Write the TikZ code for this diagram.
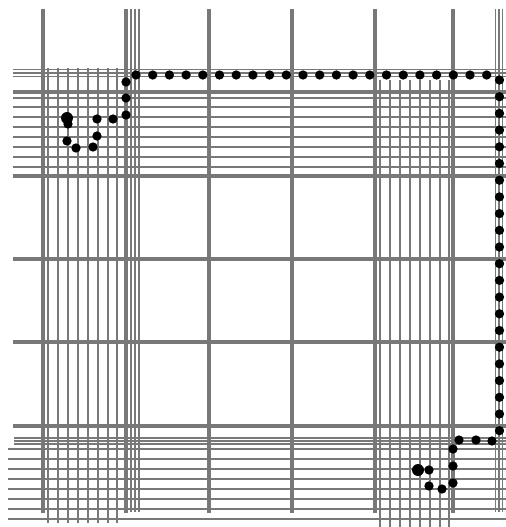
\documentclass[tikz,border=0pt]{standalone}
\definecolor{gridgray}{HTML}{787878}
\begin{document}
\begin{tikzpicture}[x=0.02cm,y=-0.02cm,
        coarseline/.style={gridgray,line width=2.2pt},
        edgeline/.style={gridgray,line width=1pt},
        fineline/.style={gridgray,line width=1.15pt},
        pathdot/.style={fill=black},
        startdot/.style={fill=black}]
    \useasboundingbox (0,0) rectangle (506,527);
    % fine grids
    \foreach \x in {48,58,68,78,88,98,108,117} \draw[fineline] (\x,68) -- (\x,523);
    \foreach \x in {380,390,...,440,449} \draw[fineline] (\x,80) -- (\x,527);
    \foreach \y in {98,107,117,127,137,147,157,167} \draw[fineline] (13,\y) -- (506,\y);
    \foreach \y in {449,459,...,519} \draw[fineline] (8,\y) -- (506,\y);
    % edge lines
    \foreach \x in {131,135,139,495.5,499,502.5} \draw[edgeline] (\x,9) -- (\x,512);
    \foreach \y in {69.5,73,76.5} \draw[edgeline] (13,\y) -- (506,\y);
    \foreach \y in {438,441,444} \draw[edgeline] (14,\y) -- (506,\y);
    % coarse grid
    \foreach \x in {43,126,209,292,375,453} \draw[coarseline] (\x,9) -- (\x,513);
    \foreach \y in {92,176,259,342,426} \draw[coarseline] (13,\y) -- (506,\y);
    % path
    \foreach \i in {0,...,21} \fill[pathdot] (136+16.7*\i,75) circle[radius=0.093cm];
    \foreach \i in {0,...,21} \fill[pathdot] (499.5,80+16.7*\i) circle[radius=0.093cm];
    \foreach \p in {(126,82),(126,98),(126,115),(113,119),(97,119),(97,136),(93,147),(76,148),(67,141),(68,124)}
        \fill[pathdot] \p circle[radius=0.093cm];
    \foreach \p in {(492,441),(476,440),(459,440),(453,449),(453,466),(453,483),(442,489),(429,486),(429,470)}
        \fill[pathdot] \p circle[radius=0.093cm];
    \fill[startdot] (67,118) circle[radius=0.12cm];
    \fill[startdot] (418,470) circle[radius=0.12cm];
\end{tikzpicture}
\end{document}
